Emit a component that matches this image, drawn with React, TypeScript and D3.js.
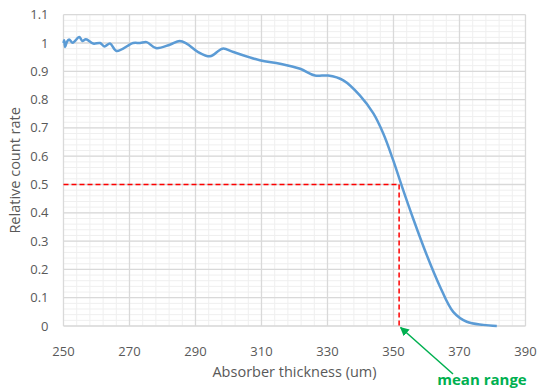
import React, { useRef, useEffect } from 'react';
import * as d3 from 'd3';

// absorber thickness (um) and relative count rate
const thickness = [250, 250.2, 250.5, 251, 251.7, 252.8, 254.8, 255.7, 256.8, 259, 261.1, 262.4, 264.1, 266.1,
  271.1, 273.2, 275.2, 278, 282.2, 285.2, 287.3, 290.8, 294.4, 298.2, 301.5, 309.5, 315.6, 321.7, 326.2,
  330.2, 334.8, 339.8, 343.9, 346.9, 349.9, 352.5, 356, 360.1, 364.1, 368.1, 372.2, 377.2, 381.3];
const rate = [1.0, 1.01, 0.986, 1.003, 1.012, 1.001, 1.021, 1.007, 1.013, 0.998, 1.0, 0.988, 0.998, 0.972,
  1.0, 1.0, 1.003, 0.982, 0.994, 1.007, 0.998, 0.968, 0.953, 0.98, 0.968, 0.939, 0.927, 0.909, 0.885,
  0.885, 0.868, 0.815, 0.751, 0.68, 0.586, 0.495, 0.378, 0.25, 0.139, 0.05, 0.015, 0.004, 0.0];

const xTicks = [250, 270, 290, 310, 330, 350, 370, 390];
const yTicks = [0, 0.1, 0.2, 0.3, 0.4, 0.5, 0.6, 0.7, 0.8, 0.9, 1, 1.1];
const meanRange = 351.7;
const halfRate = 0.5;

function App() {
  const ref = useRef<SVGSVGElement>(null);

  useEffect(() => {
    const svg = d3.select(ref.current);
    svg.selectAll('*').remove();

    const left = 63.5, right = 525.5, top = 14.7, bottom = 326;
    const x = d3.scaleLinear().domain([250, 390]).range([left, right]);
    const y = d3.scaleLinear().domain([0, 1.1]).range([bottom, top]);
    const font = "'Open Sans', sans-serif";

    // minor grid
    const g = svg.append('g');
    g.selectAll('.mx').data(d3.range(250, 390.01, 4)).enter().append('line')
      .attr('x1', d => x(d)).attr('x2', d => x(d)).attr('y1', top).attr('y2', bottom)
      .attr('stroke', '#efefef').attr('stroke-width', 1);
    g.selectAll('.my').data(d3.range(0, 1.1001, 0.02)).enter().append('line')
      .attr('x1', left).attr('x2', right).attr('y1', d => y(d)).attr('y2', d => y(d))
      .attr('stroke', '#efefef').attr('stroke-width', 1);

    // major grid
    g.selectAll('.Mx').data(xTicks).enter().append('line')
      .attr('x1', d => x(d)).attr('x2', d => x(d)).attr('y1', top).attr('y2', bottom)
      .attr('stroke', '#d9d9d9').attr('stroke-width', 1.3);
    g.selectAll('.My').data(yTicks).enter().append('line')
      .attr('x1', left).attr('x2', right).attr('y1', d => y(d)).attr('y2', d => y(d))
      .attr('stroke', '#d9d9d9').attr('stroke-width', 1.3);

    // tick labels
    svg.append('g').selectAll('text').data(xTicks).enter().append('text')
      .attr('x', d => x(d)).attr('y', 356).attr('text-anchor', 'middle')
      .attr('font-family', font).attr('font-size', 13).attr('fill', '#595959')
      .text(d => d);
    svg.append('g').selectAll('text').data(yTicks).enter().append('text')
      .attr('x', 48.5).attr('y', d => y(d) + 4.5).attr('text-anchor', 'end')
      .attr('font-family', font).attr('font-size', 13).attr('fill', '#595959')
      .text(d => d3.format('~g')(d));

    // axis titles
    svg.append('text')
      .attr('x', (left + right) / 2).attr('y', 377).attr('text-anchor', 'middle')
      .attr('font-family', font).attr('font-size', 14.5).attr('fill', '#595959')
      .text('Absorber thickness (um)');
    svg.append('text')
      .attr('transform', `translate(20,${(top + bottom) / 2}) rotate(-90)`).attr('text-anchor', 'middle')
      .attr('font-family', font).attr('font-size', 14.5).attr('fill', '#595959')
      .text('Relative count rate');

    // dashed red guides
    svg.append('line')
      .attr('x1', left).attr('x2', x(meanRange)).attr('y1', y(halfRate)).attr('y2', y(halfRate))
      .attr('stroke', '#ff0000').attr('stroke-width', 1.5).attr('stroke-dasharray', '5,3');
    svg.append('line')
      .attr('x1', x(meanRange)).attr('x2', x(meanRange)).attr('y1', y(halfRate)).attr('y2', y(0))
      .attr('stroke', '#ff0000').attr('stroke-width', 1.5).attr('stroke-dasharray', '5,3');

    // curve
    const data = thickness.map((t, i) => [t, rate[i]] as [number, number]);
    const line = d3.line<[number, number]>().x(d => x(d[0])).y(d => y(d[1])).curve(d3.curveCatmullRom.alpha(0.5));
    svg.append('path').datum(data).attr('d', line).attr('fill', 'none')
      .attr('stroke', '#5b9bd5').attr('stroke-width', 2.5).attr('stroke-linejoin', 'round');

    // arrow to mean range
    svg.append('defs').append('marker')
      .attr('id', 'arr').attr('viewBox', '0 0 10 10').attr('refX', 9).attr('refY', 5)
      .attr('markerWidth', 6).attr('markerHeight', 6).attr('orient', 'auto')
      .append('path').attr('d', 'M0,0L10,5L0,10Z').attr('fill', '#00b050');
    svg.append('line')
      .attr('x1', 453).attr('y1', 374).attr('x2', x(meanRange) + 1.5).attr('y2', y(0) + 1.5)
      .attr('stroke', '#00b050').attr('stroke-width', 1.5).attr('marker-end', 'url(#arr)');
    svg.append('text')
      .attr('x', 482).attr('y', 385).attr('text-anchor', 'middle')
      .attr('font-family', font).attr('font-size', 15).attr('font-weight', 'bold').attr('fill', '#00b050')
      .text('mean range');
  }, []);

  return <svg ref={ref} width={537} height={391} style={{ position: 'absolute', left: 0, top: 0, background: '#fff' }} />;
}

export default App;
